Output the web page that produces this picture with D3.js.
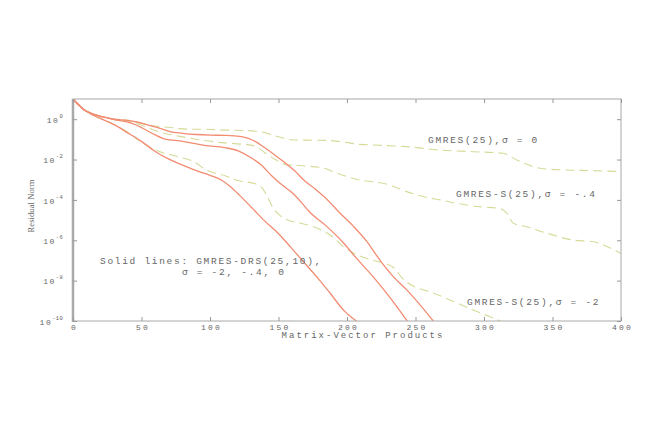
<!DOCTYPE html>
<html><head><meta charset="utf-8">
<script src="https://cdn.jsdelivr.net/npm/d3@7"></script>
<style>
html,body{margin:0;padding:0;background:#fff;}
svg{display:block;}
.lbl{font-family:"Liberation Mono","DejaVu Sans Mono",monospace;fill:#666;}
</style></head>
<body><svg id="c" width="654" height="436"></svg>
<script>
// ---- data (x = matrix-vector products, values = log10 of residual norm) ----
const xTicks = [0, 50, 100, 150, 200, 250, 300, 350, 400];
const yTickExp = [0, -2, -4, -6, -8, -10];

const drsS0X   = [0, 2, 5, 8, 12, 17, 22, 30, 40, 46.5, 55, 63.5, 70, 80, 90, 100, 112, 123, 128, 133, 140, 147, 155, 162, 169, 176.6, 184, 190, 195, 204.6, 214.4, 224, 233.8, 243.6, 253.3, 263];
const drsS0Y   = [1, 0.85, 0.65, 0.47, 0.33, 0.2, 0.11, 0, -0.06, -0.14, -0.3, -0.45, -0.6, -0.7, -0.76, -0.79, -0.8, -0.86, -0.95, -1.1, -1.42, -1.76, -2.17, -2.57, -3.05, -3.45, -3.88, -4.3, -4.66, -5.3, -6.05, -6.98, -7.8, -8.46, -9.2, -10];

const drsS04X  = [0, 2, 5, 8, 12, 17, 22, 30, 40, 46.5, 51, 60, 68, 78, 88, 96, 111, 121, 130, 137, 145, 152, 160, 167, 172, 185, 197, 207, 219, 231, 244];
const drsS04Y  = [1, 0.85, 0.65, 0.47, 0.33, 0.2, 0.11, -0.02, -0.15, -0.3, -0.45, -0.78, -1.0, -1.08, -1.2, -1.3, -1.41, -1.58, -1.91, -2.25, -2.8, -3.23, -3.65, -4.15, -4.55, -5.3, -6.1, -6.9, -7.8, -8.8, -10];

const drsS2X   = [0, 2, 5, 8, 12, 17, 22, 30, 40, 50, 60, 70, 80, 90, 100, 108, 115, 122, 130, 140, 149, 159, 170, 179, 188, 198, 203, 207];
const drsS2Y   = [1, 0.85, 0.65, 0.47, 0.3, 0.12, -0.02, -0.27, -0.68, -1.1, -1.6, -1.98, -2.28, -2.55, -2.78, -3.0, -3.35, -3.8, -4.35, -5.05, -5.6, -6.35, -7.2, -7.9, -8.65, -9.5, -9.8, -10];

const gmS0X    = [0, 2, 5, 8, 12, 17, 22, 30, 40, 46.5, 55, 63.5, 70, 78, 88, 95, 112, 125, 136.5, 148.7, 160.8, 185, 195, 209.5, 219, 243.6, 268, 292, 314, 324, 341, 360, 380, 400];
const gmS0Y    = [1, 0.85, 0.65, 0.47, 0.33, 0.2, 0.11, 0, -0.06, -0.14, -0.28, -0.37, -0.4, -0.47, -0.5, -0.5, -0.54, -0.56, -0.62, -0.85, -1.03, -1.05, -1.11, -1.25, -1.28, -1.36, -1.53, -1.61, -1.69, -2.02, -2.43, -2.52, -2.55, -2.6];

const gmS04X   = [0, 2, 5, 8, 12, 17, 22, 30, 40, 50, 63.5, 78, 95, 108.5, 123, 132.8, 140, 147.4, 154.7, 169.3, 181.5, 193.7, 209, 219, 231, 243.6, 256, 268, 280, 297, 311, 316.6, 321.4, 331, 346, 365, 380, 390, 400];
const gmS04Y   = [1, 0.85, 0.65, 0.47, 0.33, 0.2, 0.11, -0.01, -0.1, -0.3, -0.64, -0.85, -1.05, -1.16, -1.24, -1.33, -1.66, -1.99, -2.24, -2.32, -2.4, -2.7, -3.01, -3.1, -3.26, -3.59, -3.84, -4.0, -4.17, -4.34, -4.42, -4.66, -5.16, -5.33, -5.65, -5.99, -6.07, -6.32, -6.65];

const gmS2X    = [0, 2, 5, 8, 12, 17, 22, 30, 40, 50, 63, 76, 88, 97, 111, 121, 133, 138, 142, 146, 150, 155, 167, 179, 189, 198, 209, 219, 229, 234, 240, 249, 258, 268, 280, 292, 304, 312];
const gmS2Y    = [1, 0.85, 0.65, 0.47, 0.3, 0.12, -0.02, -0.27, -0.65, -1.15, -1.6, -1.85, -2.1, -2.5, -2.8, -3.05, -3.2, -3.4, -3.85, -4.4, -4.7, -4.95, -5.17, -5.42, -5.8, -6.35, -6.77, -7.0, -7.18, -7.35, -7.85, -8.3, -8.5, -8.75, -9.1, -9.45, -9.78, -10];

const annotations = [
  {text: "GMRES(25),\u03c3 = 0", x: 428, y: 143},
  {text: "GMRES-S(25),\u03c3 = -.4", x: 456, y: 197},
  {text: "GMRES-S(25),\u03c3 = -2", x: 467, y: 305},
  {text: "Solid lines: GMRES-DRS(25,10),", x: 100, y: 264},
  {text: "\u03c3 = -2, -.4, 0", x: 182, y: 275}
];

// ---- layout ----
const L = 73, R = 621, T = 99, B = 321;
const svg = d3.select("#c");
const x = d3.scaleLinear().domain([0, 400]).range([L, R]);
const y = d3.scaleLog().domain([1e-10, 1e1]).range([B, T]);

svg.append("clipPath").attr("id", "pc").append("rect")
  .attr("x", L).attr("y", T).attr("width", R - L).attr("height", B - T);

function series(xs, ys) { return xs.map((v, i) => [v, Math.pow(10, ys[i])]); }
const line = d3.line().x(d => x(d[0])).y(d => y(d[1])).curve(d3.curveMonotoneX);

const g = svg.append("g").attr("clip-path", "url(#pc)");
const dashed = [[gmS0X, gmS0Y], [gmS04X, gmS04Y], [gmS2X, gmS2Y]];
const solid = [[drsS0X, drsS0Y], [drsS04X, drsS04Y], [drsS2X, drsS2Y]];
dashed.forEach(([a, b]) => {
  g.append("path").datum(series(a, b)).attr("d", line)
    .attr("fill", "none").attr("stroke", "#d6da98").attr("stroke-width", 1.1)
    .attr("stroke-dasharray", "9,5");
});
solid.forEach(([a, b]) => {
  g.append("path").datum(series(a, b)).attr("d", line)
    .attr("fill", "none").attr("stroke", "#f28c72").attr("stroke-width", 1.3);
});

// ---- frame ----
svg.append("rect").attr("x", L).attr("y", T).attr("width", R - L).attr("height", B - T)
  .attr("fill", "none").attr("stroke", "#a8a8a8").attr("stroke-width", 1);
svg.append("line").attr("x1", L).attr("x2", L).attr("y1", T).attr("y2", B + 1)
  .attr("stroke", "#aaa").attr("stroke-width", 2.5);

// ---- axes ----
const yTickVals = yTickExp.map(e => Math.pow(10, e));
const styleAxis = sel => {
  sel.select(".domain").remove();
  sel.selectAll(".tick line").attr("stroke", "#999");
};
const xb = svg.append("g").attr("transform", `translate(0,${B})`)
  .call(d3.axisBottom(x).tickValues(xTicks).tickSizeInner(-4).tickSizeOuter(0).tickPadding(3))
  .call(styleAxis);
xb.selectAll(".tick text").attr("class", "lbl").attr("font-size", 8)
  .attr("letter-spacing", "2.2px").attr("fill", "#666").attr("dx", "1px");
svg.append("g").attr("transform", `translate(0,${T})`)
  .call(d3.axisTop(x).tickValues(xTicks).tickSizeInner(-4).tickSizeOuter(0).tickFormat(""))
  .call(styleAxis);
svg.append("g").attr("transform", `translate(${R},0)`)
  .call(d3.axisRight(y).tickValues(yTickVals).tickSizeInner(-4).tickSizeOuter(0).tickFormat(""))
  .call(styleAxis);
const yl = svg.append("g").attr("transform", `translate(${L},0)`)
  .call(d3.axisLeft(y).tickValues(yTickVals).tickSizeInner(-4).tickSizeOuter(0).tickPadding(10).tickFormat(""))
  .call(styleAxis);
yl.selectAll(".tick").each(function(d) {
  const e = Math.round(Math.log10(d));
  const t = d3.select(this).select("text").attr("class", "lbl")
    .attr("font-size", 8).attr("letter-spacing", "1.5px").attr("dy", "0.4em")
    .attr("fill", "#666").attr("text-anchor", "end");
  t.text(null);
  t.append("tspan").text("10");
  t.append("tspan").attr("font-size", 5.5).attr("dy", "-0.9em").attr("letter-spacing", "0.3px").text(String(e));
});

// ---- axis titles ----
svg.append("text").attr("class", "lbl").attr("x", 363).attr("y", 338)
  .attr("text-anchor", "middle").attr("font-size", 9).attr("letter-spacing", "2px")
  .text("Matrix-Vector Products");
svg.append("text").attr("transform", `translate(34,${(T + B) / 2 - 4}) rotate(-90)`)
  .attr("text-anchor", "middle").attr("font-family", "Liberation Serif, serif")
  .attr("font-size", 8.5).attr("fill", "#666").attr("letter-spacing", "0.1px")
  .text("Residual Norm");

// ---- annotations ----
svg.append("g").selectAll("text").data(annotations).join("text")
  .attr("class", "lbl").attr("x", d => d.x).attr("y", d => d.y)
  .attr("font-size", 9.5).attr("letter-spacing", "1.7px")
  .text(d => d.text);
</script></body></html>
